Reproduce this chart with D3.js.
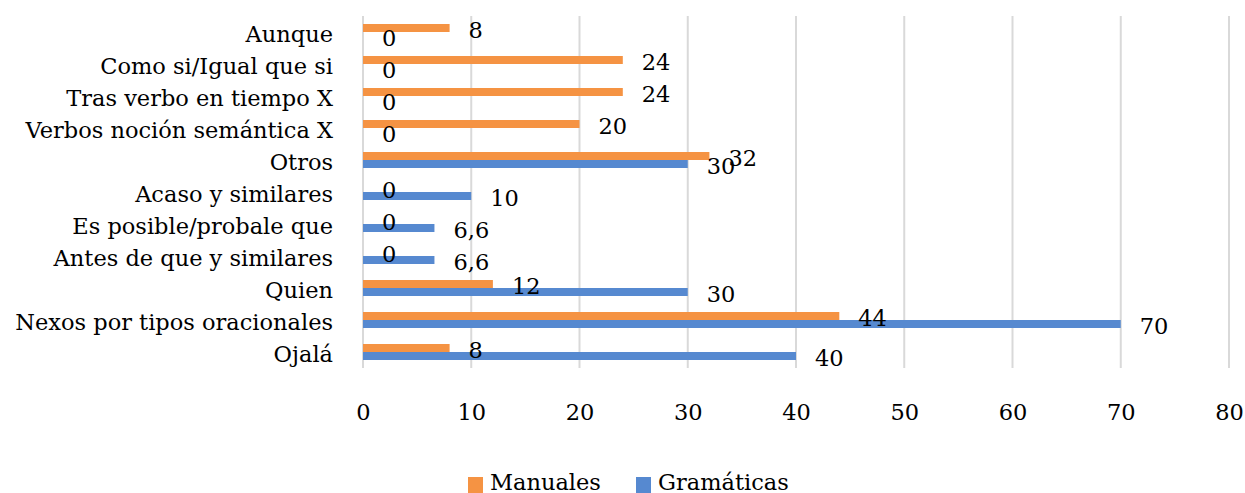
<!DOCTYPE html>
<html>
<head>
<meta charset="utf-8">
<script src="https://cdn.jsdelivr.net/npm/d3@7"></script>
<style>
  html, body { margin: 0; padding: 0; background: #fff; }
  svg { display: block; }
  text { font-family: "DejaVu Serif", "Liberation Serif", serif; fill: #000; }
</style>
</head>
<body>
<svg id="chart" width="1245" height="493"></svg>
<script>
// Categories, top to bottom
const categories = [
  "Aunque",
  "Como si/Igual que si",
  "Tras verbo en tiempo X",
  "Verbos noción semántica X",
  "Otros",
  "Acaso y similares",
  "Es posible/probale que",
  "Antes de que y similares",
  "Quien",
  "Nexos por tipos oracionales",
  "Ojalá"
];
const manuales   = [8, 24, 24, 20, 32, 0, 0, 0, 12, 44, 8];
const gramaticas = [0, 0, 0, 0, 30, 10, 6.6, 6.6, 30, 70, 40];
const seriesNames = ["Manuales", "Gramáticas"];
const xTicks = [0, 10, 20, 30, 40, 50, 60, 70, 80];

const colors = { Manuales: "#F59343", "Gramáticas": "#5689D0" };
const fmt = v => String(v).replace(".", ",");
const fontSize = "22.5px";

const svg = d3.select("#chart");
const plotLeft = 363, plotRight = 1229, plotTop = 16, plotBottom = 368;

const x = d3.scaleLinear().domain([0, 80]).range([plotLeft, plotRight]);
const y = d3.scaleBand().domain(categories).range([plotTop, plotBottom])
  .paddingInner(0.5).paddingOuter(0.25);
const ySub = d3.scaleBand().domain(seriesNames).range([0, y.bandwidth()]);

// Vertical gridlines
svg.append("g").selectAll("line").data(xTicks).join("line")
  .attr("x1", d => x(d)).attr("x2", d => x(d))
  .attr("y1", plotTop).attr("y2", plotBottom)
  .attr("stroke", "#d9d9d9").attr("stroke-width", 2);

// Bottom tick labels
const xAxis = d3.axisBottom(x).tickValues(xTicks).tickSize(0).tickPadding(0);
const gx = svg.append("g").attr("transform", `translate(0,${plotBottom})`).call(xAxis);
gx.select(".domain").remove();
gx.selectAll("text")
  .attr("y", 52).attr("dy", null)
  .style("font-family", "DejaVu Serif").style("font-size", fontSize).attr("fill", "#000");

// Category labels
const yAxis = d3.axisLeft(y).tickSize(0).tickPadding(0);
const gy = svg.append("g").attr("transform", `translate(${plotLeft - 30},0)`).call(yAxis);
gy.select(".domain").remove();
gy.selectAll("text")
  .attr("dy", "0.45em").attr("x", 0)
  .style("font-family", "DejaVu Serif").style("font-size", fontSize).attr("fill", "#000");

// Bars and value labels
const rows = categories.map((c, i) => ({ c, values: [
  { s: "Manuales", v: manuales[i] },
  { s: "Gramáticas", v: gramaticas[i] }
]}));

const groups = svg.append("g").selectAll("g").data(rows).join("g")
  .attr("transform", d => `translate(0,${y(d.c)})`);

groups.selectAll("rect").data(d => d.values).join("rect")
  .attr("x", x(0))
  .attr("y", d => ySub(d.s))
  .attr("width", d => x(d.v) - x(0))
  .attr("height", ySub.bandwidth())
  .attr("fill", d => colors[d.s]);

groups.selectAll("text.val").data(d => d.values).join("text")
  .attr("class", "val")
  .attr("x", d => x(d.v) + 19)
  .attr("y", d => ySub(d.s) + ySub.bandwidth() / 2 + 2)
  .attr("dy", "0.36em")
  .style("font-size", fontSize)
  .text(d => fmt(d.v));

// Legend
const legend = svg.append("g");
const legendItems = [
  { s: "Manuales", sx: 468, tx: 490 },
  { s: "Gramáticas", sx: 636, tx: 658 }
];
legendItems.forEach(it => {
  legend.append("rect").attr("x", it.sx).attr("y", 477).attr("width", 15).attr("height", 16)
    .attr("fill", colors[it.s]);
  legend.append("text").attr("x", it.tx).attr("y", 490)
    .style("font-size", fontSize).text(it.s);
});
</script>
</body>
</html>
